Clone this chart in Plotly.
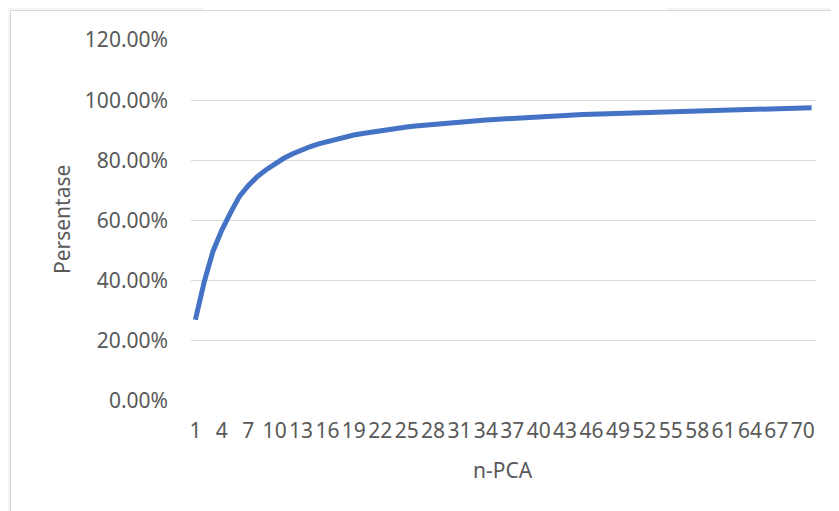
import plotly.graph_objects as go

n_pca = list(range(1, 72))
persentase = [
    0.270, 0.396, 0.498, 0.568, 0.626, 0.680, 0.716, 0.745, 0.768, 0.788,
    0.806, 0.821, 0.834, 0.845, 0.855, 0.863, 0.871, 0.878, 0.884, 0.889,
    0.894, 0.899, 0.903, 0.907, 0.911, 0.914, 0.917, 0.920, 0.923, 0.926,
    0.928, 0.930, 0.932, 0.934, 0.936, 0.938, 0.940, 0.942, 0.944, 0.946,
    0.947, 0.948, 0.950, 0.951, 0.952, 0.953, 0.954, 0.955, 0.956, 0.957,
    0.958, 0.959, 0.960, 0.961, 0.962, 0.963, 0.964, 0.965, 0.966, 0.966,
    0.967, 0.968, 0.968, 0.969, 0.970, 0.971, 0.971, 0.972, 0.973, 0.974,
    0.975,
]
x_labels = [str(v) for v in n_pca]
tick_labels = x_labels[::3]
y_ticks = [0, 0.2, 0.4, 0.6, 0.8, 1.0, 1.2]

W, H = 839, 511
OFF = 8  # page body margin
L, R, T, B = 183, 31, 32, 118
PW, PH = W - L - R, H - T - B

def px(xs):
    # screen x -> paper x
    return (xs - OFF - L) / PW

def py(ys):
    # screen y -> paper y
    return (H - B - (ys - OFF)) / PH

FONT = "Noto Sans"
TXT = "#595959"
FS = 21

fig = go.Figure()
fig.add_trace(go.Scatter(
    x=x_labels, y=persentase, mode="lines",
    line=dict(color="#4472C4", width=5),
    hoverinfo="skip", showlegend=False,
))

shapes = [
    dict(type="rect", xref="paper", yref="paper", x0=px(-10), x1=px(10.5), y0=py(530), y1=py(-10),
         fillcolor="#f5f5f5", line=dict(width=0), layer="below"),
    dict(type="rect", xref="paper", yref="paper", x0=px(-10), x1=px(203), y0=py(10.5), y1=py(-10),
         fillcolor="#f5f5f5", line=dict(width=0), layer="below"),
    dict(type="rect", xref="paper", yref="paper", x0=px(666), x1=px(850), y0=py(10.5), y1=py(-10),
         fillcolor="#f5f5f5", line=dict(width=0), layer="below"),
    dict(type="rect", xref="paper", yref="paper", x0=px(10.5), x1=px(860), y0=py(530), y1=py(10.5),
         fillcolor="rgba(0,0,0,0)", line=dict(color="#d9d9d9", width=1), layer="below"),
]

fig.update_layout(
    width=W, height=H,
    margin=dict(l=L, r=R, t=T, b=B, pad=0),
    paper_bgcolor="white", plot_bgcolor="white",
    font=dict(family=FONT, size=FS, color=TXT),
    shapes=shapes,
    xaxis=dict(
        type="category", range=[-0.5, len(n_pca) - 0.5],
        tickmode="array", tickvals=tick_labels, ticktext=tick_labels,
        tickangle=0, showgrid=False, showline=False, zeroline=False,
        ticks="", ticklabelstandoff=15,
        tickfont=dict(family=FONT, size=FS, color=TXT),
    ),
    yaxis=dict(
        range=[0, 1.2], tickmode="array", tickvals=y_ticks,
        tickformat=".2%", showgrid=True, gridcolor="#d9d9d9", gridwidth=1.3,
        zeroline=False, showline=False, ticks="", ticklabelstandoff=22,
        tickfont=dict(family=FONT, size=FS, color=TXT),
    ),
    annotations=[
        dict(text="Persentase", xref="paper", yref="paper", x=px(62), y=py(220),
             showarrow=False, textangle=-90, xanchor="center", yanchor="middle",
             font=dict(family=FONT, size=FS, color=TXT)),
        dict(text="n-PCA", xref="paper", yref="paper", x=px(503), y=py(470),
             showarrow=False, xanchor="center", yanchor="middle",
             font=dict(family=FONT, size=FS, color=TXT)),
    ],
)

fig.write_html("out.html")
